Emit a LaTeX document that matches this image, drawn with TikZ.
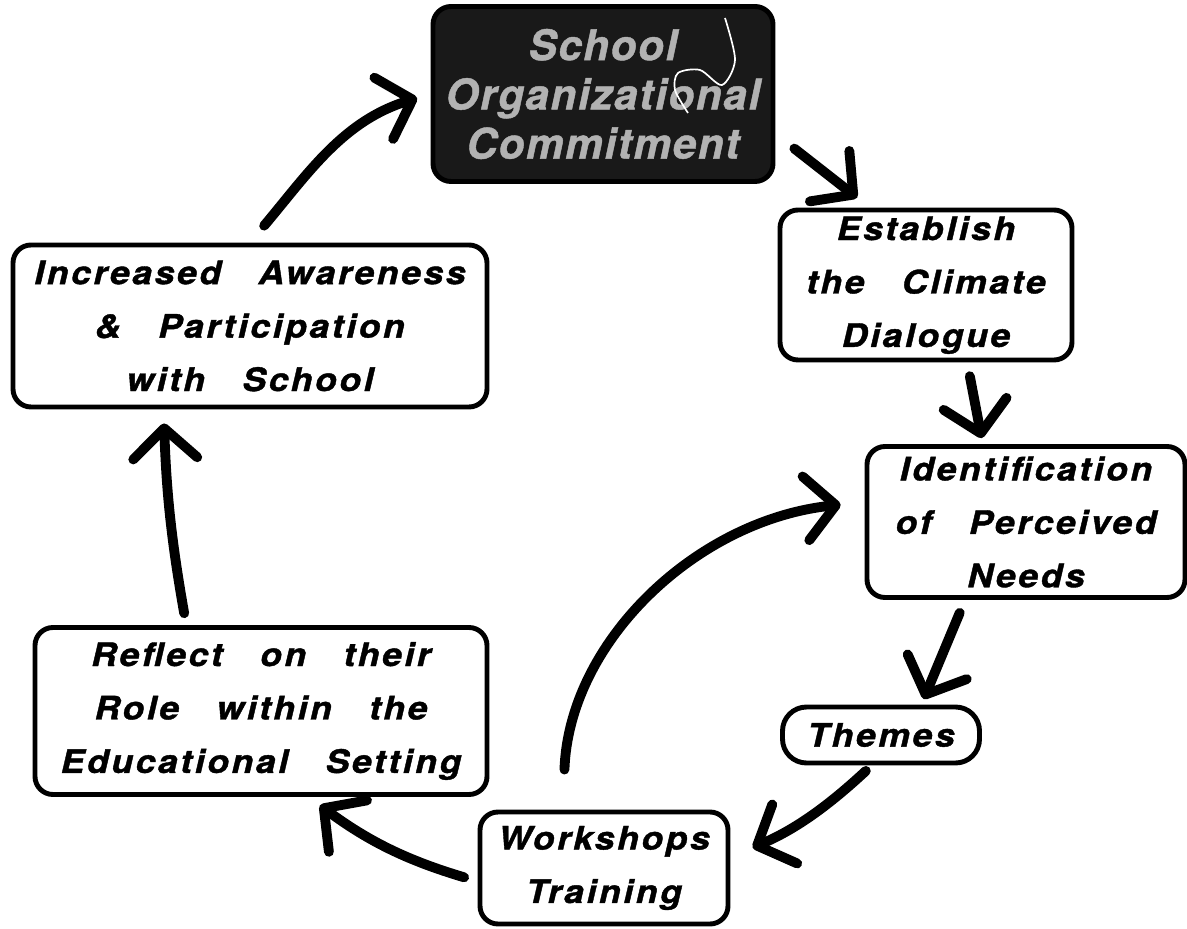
\documentclass[tikz,border=0pt]{standalone}
\usepackage{fontspec}
\newfontfamily\stagefont{TeX Gyre Heros}[LetterSpace=8,WordSpace=3,FakeStretch=1.1,BoldItalicFeatures={FakeBold=1.2}]
\newfontfamily\corefont{TeX Gyre Heros}[LetterSpace=4,WordSpace=2,BoldItalicFeatures={FakeBold=1}]
\usetikzlibrary{arrows.meta}
\tikzset{
  stage/.style={
      draw,
      line width=3.5pt,
      rounded corners=0.45cm,
      align=center,
      inner sep=0pt,
      font=\stagefont\bfseries\itshape\fontsize{23}{38}\selectfont
  },
  core/.style={
      stage,
      fill=black!90,
      text=black!30,
      font=\corefont\bfseries\itshape\fontsize{30}{35}\selectfont
  },
  flow/.style={
      line width=7pt,
      line cap=round,
      -{Straight Barb[length=0.75cm,width=1.6cm,round]}
  }
}

\begin{document}
\begin{tikzpicture}
	\useasboundingbox (0,0) rectangle (29.675,23.2);
	\node[core, minimum width=8.5cm, minimum height=4.375cm] (school) at (15.075,20.85) {School\\Organizational\\Commitment};
	\draw[white, line width=1.2pt] plot[smooth] coordinates {(18.125,22.75) (18.375,21.7) (18.05,21.075) (17.5,21.45) (16.95,21.375) (16.875,20.95) (17.2,20.375)};
	\node[stage, minimum width=7.3cm, minimum height=3.75cm] (climate) at (23.15,16.075) {Establish\\the Climate\\Dialogue};
	\node[stage, minimum width=7.95cm, minimum height=3.775cm] (needs) at (25.65,10.15) {Identification\\of Perceived\\Needs};
	\node[stage, rounded corners=0.6cm, minimum width=4.925cm, minimum height=1.4cm] (themes) at (22.025,4.825) {Themes};
	\node[stage, minimum width=6.2cm, minimum height=2.8cm] (train) at (15.1,1.5) {Workshops\\Training};
	\node[stage, minimum width=11.3cm, minimum height=4.175cm] (reflect) at (6.525,5.425) {Reflect on their\\Role within the\\Educational Setting};
	\node[stage, minimum width=11.85cm, minimum height=4.05cm] (aware) at (6.25,15.05) {Increased Awareness\\\& Participation\\with School};

	\draw[flow, shorten <=0.6cm, shorten >=0.4cm] (school.-13) -- (climate.126);
	\draw[flow, shorten <=0.35cm, shorten >=0.15cm] (climate.-62) -- (needs.119);
	\draw[flow, shorten <=0.35cm, shorten >=0.15cm] (needs.-128) -- (themes.37);
	\draw[flow, shorten <=0.2cm, shorten >=0.6cm] (themes.-107) to[bend left=10] (train.5);
	\draw[flow, shorten <=0.35cm, shorten >=0.35cm] (train.186) to[bend left=10] (reflect.-61);
	\draw[flow, shorten <=0.3cm, shorten >=0.35cm] (reflect.131) to[out=100,in=-88] (aware.-136);
	\draw[flow, shorten <=0.55cm, shorten >=0.35cm] (aware.north) to[out=50,in=197] (school.west);
	\draw[flow, shorten <=1cm, shorten >=0.6cm] (train.125) to[out=88,in=186] (needs.173);
\end{tikzpicture}
\end{document}
